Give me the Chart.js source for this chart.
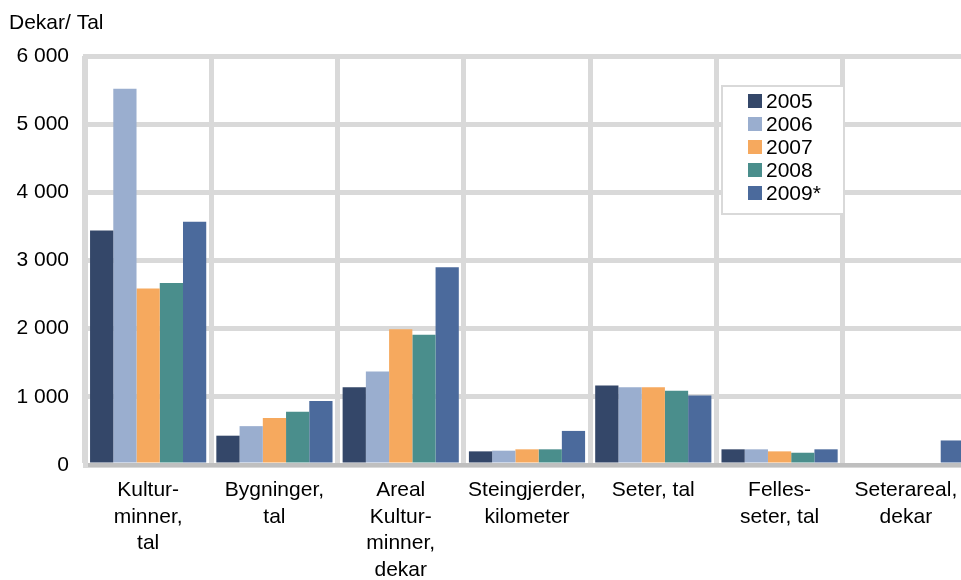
<!DOCTYPE html>
<html>
<head>
<meta charset="utf-8">
<script src="https://cdn.jsdelivr.net/npm/chart.js@4/dist/chart.umd.min.js"></script>
<style>
    body { margin: 0; overflow: hidden; background: #fff; }
    #wrap { width: 961px; height: 580px; overflow: hidden; }
</style>
</head>
<body>
<div id="wrap"><canvas id="chart" width="980" height="580"></canvas></div>
<script>
const categories = [
    ['Kultur-', 'minner,', 'tal'],
    ['Bygninger,', 'tal'],
    ['Areal', 'Kultur-', 'minner,', 'dekar'],
    ['Steingjerder,', 'kilometer'],
    ['Seter, tal'],
    ['Felles-', 'seter, tal'],
    ['Seterareal,', 'dekar'],
];

const years = ['2005', '2006', '2007', '2008', '2009*'];

const v2005 = [3440, 430, 1140, 200, 1165, 230, 0];
const v2006 = [5520, 570, 1370, 210, 1140, 230, 0];
const v2007 = [2590, 690, 1990, 230, 1140, 200, 0];
const v2008 = [2670, 780, 1910, 230, 1090, 180, 0];
const v2009 = [3570, 940, 2900, 500, 1020, 230, 360];

const yTicks = [0, 1000, 2000, 3000, 4000, 5000, 6000];

const colors = ['#344769', '#9aaecf', '#f6a95e', '#4a8e8c', '#4b6a9c'];
const series = [v2005, v2006, v2007, v2008, v2009];

const FONT = "'Liberation Sans', Arial, sans-serif";

// thousands with a space, like "6 000"
const fmt = (v) => String(v).replace(/\B(?=(\d{3})+(?!\d))/g, ' ');

const titlePlugin = {
    id: 'axisTitle',
    afterDraw(chart) {
        const ctx = chart.ctx;
        ctx.save();
        ctx.font = `21px ${FONT}`;
        ctx.fillStyle = '#000';
        ctx.textBaseline = 'middle';
        ctx.textAlign = 'left';
        ctx.fillText('Dekar/ Tal', 9, 23);
        ctx.restore();
    }
};

// legend box floating inside the plot
const boxLegend = {
    id: 'boxLegend',
    afterDraw(chart) {
        const ctx = chart.ctx;
        const x = 722, y = 86, w = 122, h = 128;
        ctx.save();
        ctx.fillStyle = '#fff';
        ctx.fillRect(x, y, w, h);
        ctx.strokeStyle = '#d9d9d9';
        ctx.lineWidth = 2;
        ctx.strokeRect(x, y, w, h);
        ctx.font = `21px ${FONT}`;
        ctx.textBaseline = 'middle';
        ctx.textAlign = 'left';
        chart.data.datasets.forEach((ds, i) => {
            const cy = 101 + i * 23;
            ctx.fillStyle = ds.backgroundColor;
            ctx.fillRect(748, cy - 7, 14, 14);
            ctx.fillStyle = '#000';
            ctx.fillText(ds.label, 766, cy + 1);
        });
        ctx.restore();
    }
};

const data = {
    labels: categories,
    datasets: series.map((values, i) => ({
        label: years[i],
        data: values,
        backgroundColor: colors[i],
        borderWidth: 0,
        barPercentage: 1,
        categoryPercentage: 0.92,
    })),
};

const options = {
    responsive: false,
    animation: false,
    devicePixelRatio: 1,
    layout: {
        padding: { top: 56, right: 11, bottom: 0, left: 0 }
    },
    plugins: {
        legend: { display: false },
        title: { display: false },
        tooltip: { enabled: false },
    },
    scales: {
        x: {
            z: 1,
            grid: {
                offset: true,
                color: '#d9d9d9',
                lineWidth: 5,
                drawTicks: false,
            },
            border: { color: '#bfbfbf', width: 4 },
            ticks: {
                autoSkip: false,
                maxRotation: 0,
                minRotation: 0,
                padding: 12,
                color: '#000',
                font: { family: FONT, size: 21, lineHeight: 1.27 },
            },
            afterFit: (scale) => { scale.height = 115; },
        },
        y: {
            min: 0,
            max: 6000,
            afterBuildTicks: (scale) => {
                scale.ticks = yTicks.map(v => ({ value: v }));
            },
            grid: {
                color: '#d9d9d9',
                lineWidth: 5,
                drawTicks: false,
            },
            border: { color: '#d9d9d9', width: 5 },
            ticks: {
                padding: 16,
                color: '#000',
                font: { family: FONT, size: 21 },
                callback: (v) => fmt(v),
            },
            afterFit: (scale) => { scale.width = 85; },
        },
    },
};

new Chart(document.getElementById('chart').getContext('2d'), {
    type: 'bar',
    data: data,
    options: options,
    plugins: [titlePlugin, boxLegend],
});
</script>
</body>
</html>
